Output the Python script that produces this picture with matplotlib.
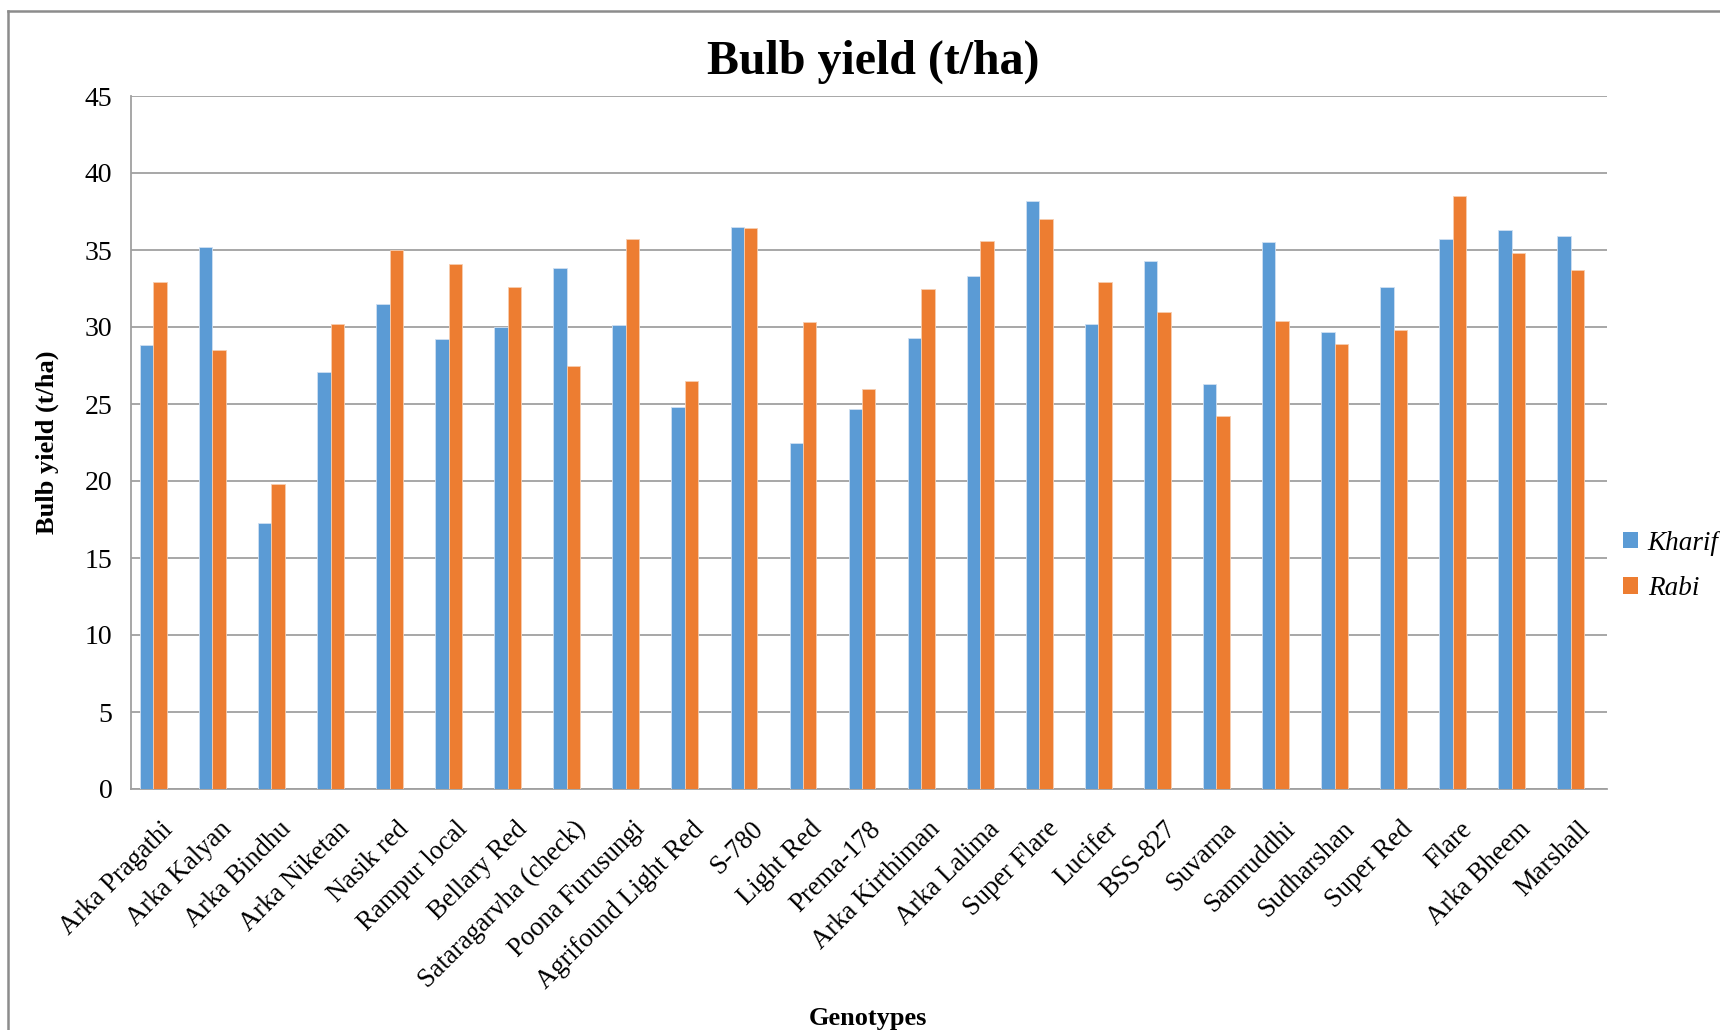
import matplotlib
matplotlib.use("Agg")
import matplotlib.pyplot as plt
from matplotlib.patches import Patch
from matplotlib.lines import Line2D
import numpy as np

genotypes = ["Arka Pragathi", "Arka Kalyan", "Arka Bindhu", "Arka Niketan", "Nasik red",
             "Rampur local", "Bellary Red", "Sataragarvha (check)", "Poona Furusungi",
             "Agrifound Light Red", "S-780", "Light Red", "Prema-178", "Arka Kirthiman",
             "Arka Lalima", "Super Flare", "Lucifer", "BSS-827", "Suvarna", "Samruddhi",
             "Sudharshan", "Super Red", "Flare", "Arka Bheem", "Marshall"]
kharif = [28.8, 35.2, 17.3, 27.1, 31.5, 29.2, 30.0, 33.8, 30.1, 24.8, 36.5, 22.5, 24.7,
          29.3, 33.3, 38.2, 30.2, 34.3, 26.3, 35.5, 29.7, 32.6, 35.7, 36.3, 35.9]
rabi = [32.9, 28.5, 19.8, 30.2, 35.0, 34.1, 32.6, 27.5, 35.7, 26.5, 36.4, 30.3, 26.0,
        32.5, 35.6, 37.0, 32.9, 31.0, 24.2, 30.4, 28.9, 29.8, 38.5, 34.8, 33.7]
series_names = ["Kharif", "Rabi"]
yticks = [0, 5, 10, 15, 20, 25, 30, 35, 40, 45]

SERIF = ["Liberation Serif", "DejaVu Serif"]
BLUE = "#5B9BD5"
ORANGE = "#ED7D31"
GRID = "#a0a0a0"

fig = plt.figure(figsize=(17.2, 10.3), dpi=100)
ax = fig.add_axes([130.5 / 1720, 1 - 789 / 1030, (1607 - 130.5) / 1720, (789 - 96) / 1030])

x = np.arange(len(genotypes))
w = 0.227
ax.bar(x - w, kharif, width=w, color=BLUE, edgecolor="#cfe0f2", linewidth=0.6, zorder=3)
ax.bar(x, rabi, width=w, color=ORANGE, edgecolor="#f7cdb0", linewidth=0.6, zorder=3)

ax.set_xlim(-0.5, len(genotypes) - 0.5)
ax.set_ylim(0, 45)
ax.set_yticks(yticks)
ax.set_yticklabels([str(v) for v in yticks], fontfamily=SERIF, fontsize=20)
ax.tick_params(axis="y", length=0, pad=13)
ax.set_xticks(x)
ax.set_xticklabels(genotypes, rotation=45, ha="right", rotation_mode="anchor",
                   fontfamily=SERIF, fontsize=19.2)
ax.tick_params(axis="x", length=0, pad=20)
ax.yaxis.grid(True, color=GRID, linewidth=1.3, zorder=0)
ax.set_axisbelow(True)
for s in ["top", "right"]:
    ax.spines[s].set_visible(False)
ax.spines["left"].set_color(GRID)
ax.spines["bottom"].set_color(GRID)
ax.spines["left"].set_linewidth(1.3)
ax.spines["bottom"].set_linewidth(1.3)

fig.text(873 / 1720, 1 - 62 / 1030, "Bulb yield (t/ha)", ha="center", va="center",
         fontfamily=SERIF, fontsize=34.5, fontweight="bold")
fig.text(47 / 1720, 1 - 442 / 1030, "Bulb yield (t/ha)", ha="center", va="center",
         rotation=90, fontfamily=SERIF, fontsize=19, fontweight="bold")
fig.text(868 / 1720, 1 - 1018 / 1030, "Genotypes", ha="center", va="center",
         fontfamily=SERIF, fontsize=19, fontweight="bold")

handles = [Patch(facecolor=BLUE, edgecolor="none"), Patch(facecolor=ORANGE, edgecolor="none")]
fig.legend(handles, series_names, loc="center left", bbox_to_anchor=(1618 / 1720, 1 - 566 / 1030),
           frameon=False, handlelength=0.55, handleheight=0.55, handletextpad=0.35,
           labelspacing=0.75, borderaxespad=0.0, borderpad=0.2,
           prop={"family": SERIF, "style": "italic", "size": 19.5})

# outer frame (partially visible)
fig.add_artist(Line2D([8 / 1720, 8 / 1720], [0, 1 - 11 / 1030], transform=fig.transFigure,
                      color="#8c8c8c", linewidth=1.8))
fig.add_artist(Line2D([8 / 1720, 1], [1 - 11 / 1030, 1 - 11 / 1030], transform=fig.transFigure,
                      color="#8c8c8c", linewidth=1.8))

fig.savefig("out.png", dpi=100, facecolor="white")
